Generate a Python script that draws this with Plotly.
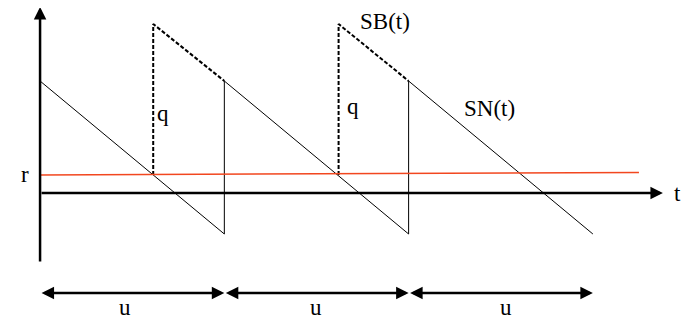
import plotly.graph_objects as go

# ---- data (time in units of u, level in arbitrary units) ----
sn_t = [0, 1, 1, 2, 2, 3]
sn_y = [1.12, -0.41, 1.12, -0.41, 1.12, -0.41]

sb1_t = [0.614, 0.614, 1.0]
sb1_y = [0.18, 1.69, 1.12]
sb2_t = [1.62, 1.62, 2.0]
sb2_y = [0.18, 1.69, 1.12]

r_t = [0, 3.25]
r_y = [0.18, 0.205]

u_bounds = [0, 1, 2, 3]
u_label_t = [0.46, 1.50, 2.53]

FONT = "'Liberation Serif', 'Times New Roman', serif"
fig = go.Figure()

fig.add_trace(go.Scatter(x=sn_t, y=sn_y, mode="lines",
                         line=dict(color="black", width=1), hoverinfo="skip"))
for tt, yy in [(sb1_t, sb1_y), (sb2_t, sb2_y)]:
    fig.add_trace(go.Scatter(x=tt, y=yy, mode="lines",
                             line=dict(color="black", width=2, dash="4px,2px"),
                             hoverinfo="skip"))
fig.add_trace(go.Scatter(x=r_t, y=r_y, mode="lines",
                         line=dict(color="#f2471f", width=1.5), hoverinfo="skip"))

ann = []
# y axis arrow
ann.append(dict(x=0, y=1.86, ax=0, ay=-0.70, xref="x", yref="y", axref="x", ayref="y",
                showarrow=True, arrowhead=2, arrowsize=1, arrowwidth=2.5, arrowcolor="black", text=""))
# x axis arrow
ann.append(dict(x=3.38, y=0, ax=0, ay=0, xref="x", yref="y", axref="x", ayref="y",
                showarrow=True, arrowhead=2, arrowsize=1, arrowwidth=2.5, arrowcolor="black", text=""))
# u interval arrows
for a, b in zip(u_bounds[:-1], u_bounds[1:]):
    ann.append(dict(x=b, y=-1.0, ax=a, ay=-1.0, xref="x", yref="y", axref="x", ayref="y",
                    showarrow=True, arrowhead=2, startarrowhead=2, arrowside="end+start",
                    arrowsize=1, startarrowsize=1, arrowwidth=2.5, arrowcolor="black", text=""))

def txt(x, y, s):
    ann.append(dict(x=x, y=y, xref="x", yref="y", text=s, showarrow=False,
                    font=dict(family=FONT, size=23, color="black")))

for t in u_label_t:
    txt(t, -1.14, "u")
txt(-0.08, 0.19, "r")
txt(0.667, 0.80, "q")
txt(1.70, 0.87, "q")
txt(1.87, 1.72, "SB(t)")
txt(2.44, 0.85, "SN(t)")
txt(3.46, 0.0, "t")

fig.update_layout(
    width=682, height=313,
    margin=dict(l=0, r=0, t=0, b=0),
    paper_bgcolor="white", plot_bgcolor="white",
    showlegend=False,
    annotations=ann,
    xaxis=dict(range=[-0.174, 3.527], visible=False, fixedrange=True),
    yaxis=dict(range=[-1.28, 1.85], visible=False, fixedrange=True),
)
fig.write_html("out.html")
